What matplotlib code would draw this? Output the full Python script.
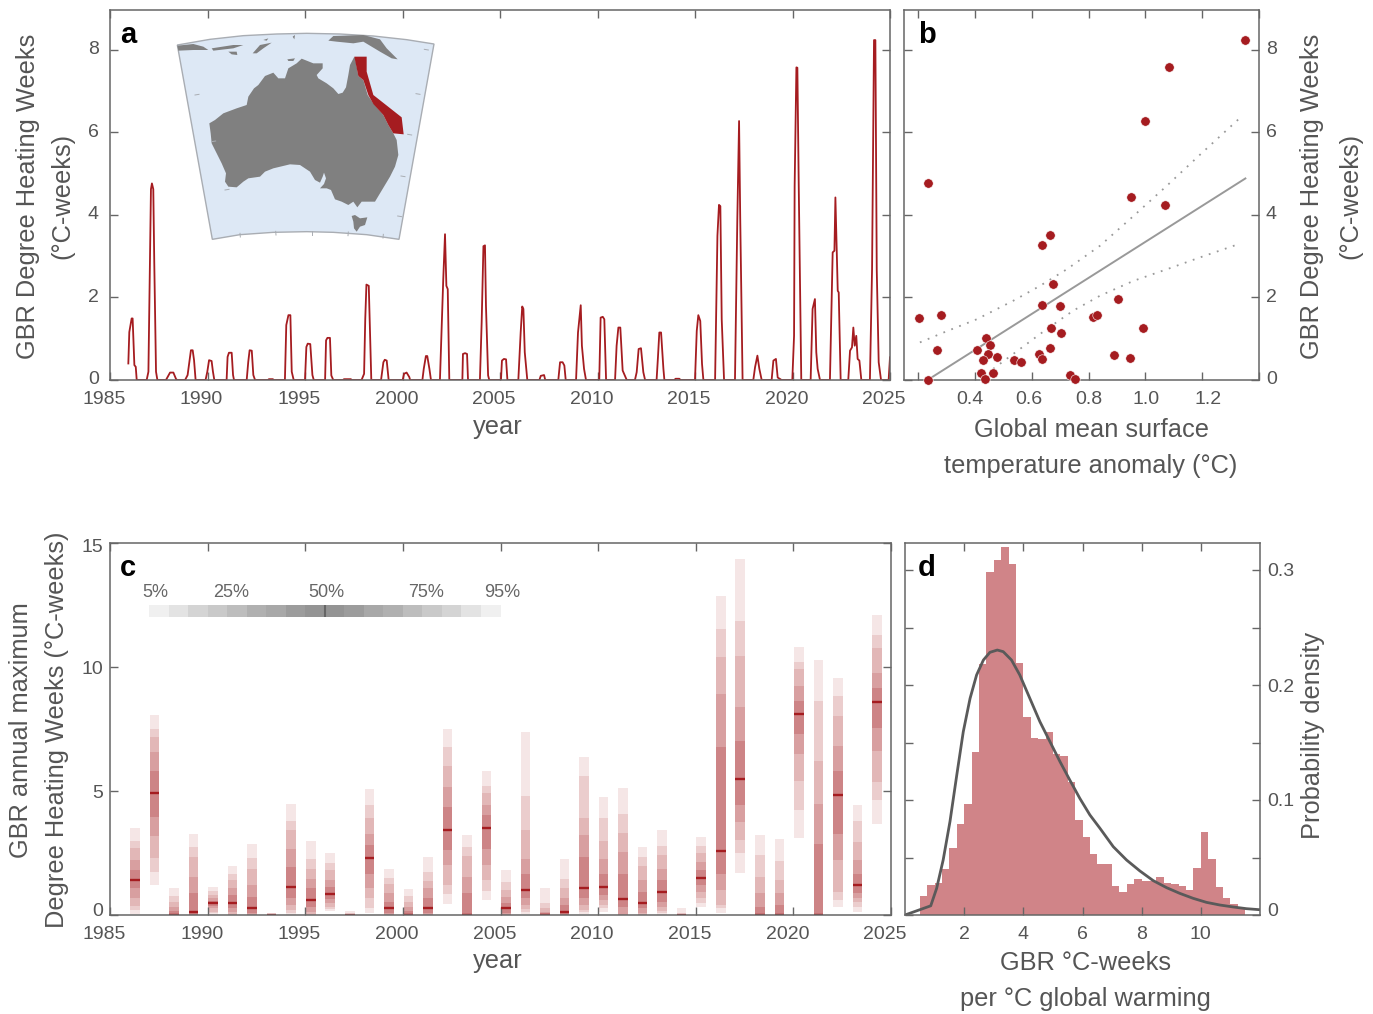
import numpy as np
import matplotlib
matplotlib.use("Agg")
import matplotlib.pyplot as plt
from matplotlib.patches import Polygon
from matplotlib.transforms import ScaledTranslation

plt.rcParams['font.family'] = ['Liberation Sans', 'DejaVu Sans']

W, H = 1373, 1014
RED = '#a51c20'
GREY = '#666666'
TXT = '#555555'

# panel a, DHW time series (year, value), one line per bleaching season
dhw_t = [1985.94, 1985.99, 1986.11, 1986.16, 1986.25, 1986.32, 1986.37,
    1986.88, 1986.97, 1987.02, 1987.10, 1987.15, 1987.22, 1987.27, 1987.36, 1987.43,
    1987.87, 1987.99, 1988.08, 1988.25, 1988.39, 1988.45,
    1988.85, 1988.98, 1989.05, 1989.15, 1989.24, 1989.31, 1989.39,
    1989.90, 1989.99, 1990.08, 1990.21, 1990.28, 1990.35,
    1990.98, 1991.03, 1991.10, 1991.24, 1991.31, 1991.36,
    1992.01, 1992.09, 1992.16, 1992.27, 1992.35, 1992.44,
    1993.10, 1993.15, 1993.35, 1993.40,
    1993.97, 1994.04, 1994.15, 1994.25, 1994.32, 1994.42,
    1995.00, 1995.07, 1995.14, 1995.27, 1995.38, 1995.45,
    1996.03, 1996.08, 1996.15, 1996.28, 1996.35, 1996.45,
    1996.95, 1997.00, 1997.35, 1997.40,
    1997.90, 1998.03, 1998.09, 1998.15, 1998.27, 1998.33, 1998.40,
    1998.90, 1999.02, 1999.09, 1999.19, 1999.29,
    2000.01, 2000.08, 2000.21, 2000.35, 2000.39,
    2001.02, 2001.09, 2001.20, 2001.27, 2001.38, 2001.46,
    2001.92, 2002.01, 2002.09, 2002.18, 2002.25, 2002.32, 2002.40,
    2003.07, 2003.10, 2003.21, 2003.31, 2003.36,
    2003.97, 2004.06, 2004.15, 2004.23, 2004.28, 2004.39, 2004.45,
    2005.05, 2005.10, 2005.20, 2005.31, 2005.38,
    2005.94, 2006.06, 2006.14, 2006.20, 2006.27, 2006.40,
    2007.02, 2007.09, 2007.26, 2007.32,
    2007.99, 2008.08, 2008.21, 2008.30, 2008.37,
    2008.90, 2009.00, 2009.14, 2009.20, 2009.31, 2009.41,
    2010.09, 2010.16, 2010.27, 2010.35, 2010.44,
    2010.90, 2010.98, 2011.07, 2011.17, 2011.29, 2011.50,
    2011.92, 2012.01, 2012.11, 2012.23, 2012.35, 2012.44,
    2013.03, 2013.10, 2013.17, 2013.26, 2013.38, 2013.43,
    2013.95, 2014.00, 2014.20, 2014.25,
    2015.00, 2015.09, 2015.17, 2015.27, 2015.36, 2015.43,
    2016.03, 2016.15, 2016.23, 2016.30, 2016.37, 2016.49,
    2017.05, 2017.17, 2017.26, 2017.32, 2017.44,
    2017.99, 2018.08, 2018.20, 2018.30, 2018.42,
    2018.93, 2019.02, 2019.15, 2019.24, 2019.44,
    2019.99, 2020.08, 2020.11, 2020.20, 2020.25, 2020.32, 2020.45,
    2020.93, 2021.03, 2021.15, 2021.22, 2021.29, 2021.41,
    2021.92, 2022.06, 2022.15, 2022.20, 2022.27, 2022.32, 2022.37, 2022.47,
    2022.86, 2022.95, 2023.05, 2023.12, 2023.19, 2023.27, 2023.34, 2023.43, 2023.53,
    2023.97, 2024.08, 2024.18, 2024.25, 2024.32, 2024.42, 2024.49, 2024.54,
    2024.93, 2025.00]
dhw_v = [.40, 1.16, 1.49, 1.49, .36, .32, 0,
    0, .2, 1.89, 4.62, 4.76, 4.62, 2.85, .2, 0,
    0, .1, .18, .18, .02, 0,
    0, .12, .36, .72, .72, .48, 0,
    0, .2, .48, .46, .2, 0,
    0, .56, .66, .66, .12, 0,
    0, .44, .72, .71, .12, 0,
    0, .02, .02, 0,
    0, 1.33, 1.57, 1.57, .2, 0,
    0, .8, .88, .87, .12, 0,
    0, .96, 1.02, 1.02, .11, 0,
    0, .02, .02, 0,
    0, .15, 1.48, 2.31, 2.28, 1.24, 0,
    0, .43, .49, .47, 0,
    0, .15, .18, .07, 0,
    0, .27, .58, .58, .27, 0,
    0, 1.32, 2.44, 3.53, 2.28, 2.2, 0,
    0, .63, .65, .63, 0,
    0, 1.4, 3.24, 3.26, 1.8, .11, 0,
    0, .47, .51, .5, 0,
    0, 1.15, 1.78, 1.72, .67, 0,
    0, .1, .12, 0,
    0, .43, .43, .35, 0,
    0, 1.15, 1.81, .83, .27, 0,
    0, 1.51, 1.53, 1.47, 0,
    0, .83, 1.27, 1.27, .23, 0,
    0, .19, .75, .77, .19, 0,
    0, .55, 1.15, 1.15, .27, 0,
    0, .03, .03, 0,
    0, 1.19, 1.57, 1.43, .39, 0,
    0, 3.49, 4.24, 4.21, 1.47, 0,
    0, 3.89, 6.27, 3.89, 0,
    0, .31, .59, .27, 0,
    0, .47, .51, .06, 0,
    0, 1.07, 4.7, 7.57, 7.56, 4.7, 0,
    0, 1.72, 1.96, .67, .27, 0,
    0, 3.09, 3.13, 4.42, 3.09, 2.16, 2.12, 0,
    0, .71, .79, 1.27, .83, 1.07, .51, .47, 0,
    0, 2.68, 8.23, 8.23, 2.68, .43, .19, 0,
    0, .55]

# panel b
gmst = [.202, .282, .265, .235, .233, .407, .439, .453, .447, .427, .478, .421, .462,
    .436, .537, .562, .637, .637, .663, .676, .699, .669, .704, .663, .624, .636,
    .736, .752, .815, .831, .904, .889, .947, .993, .949, 1.068, .998, 1.084, 1.352]
dhw_max = [1.50, 1.57, .72, 4.76, 0, .73, 1.01, .85, .64, .49, .56, .16, .17,
    .02, .48, .44, 1.81, 3.28, 3.51, 2.32, 1.79, 1.27, 1.15, .77, .64, .51,
    .13, .02, 1.53, 1.57, 1.97, .60, .53, 1.27, 4.43, 4.24, 6.26, 7.57, 8.23]
fit_x = [.233, 1.352]
fit_y = [0, 4.88]
upper_x = [.206, .3, .406, .535, .629, .723, .84, .958, 1.075, 1.193, 1.34]
upper_y = [.91, 1.18, 1.47, 1.92, 2.28, 2.68, 3.25, 3.97, 4.70, 5.46, 6.39]
lower_x = [.464, .558, .652, .746, .84, .958, 1.075, 1.193, 1.328]
lower_y = [.27, .75, 1.23, 1.68, 2.04, 2.40, 2.68, 2.97, 3.29]

# panel c, percentiles per year 1986..2024
years = np.arange(1986, 2025)
p5 = [.04, 1.2, 0, 0, 0, 0, 0, 0, 0, 0, .16, 0, .07, 0, 0, 0, .44, 0, .6, 0, .04, 0, 0, .04, .13, 0, 0, 0, 0, .31, .09, 1.7, 0, 0, 3.12, 0, .31, .13, 3.65]
p10 = [.2, 1.74, 0, 0, .07, 0, 0, 0, .09, 0, .24, 0, .29, 0, 0, 0, .84, 0, .98, 0, .13, 0, 0, .13, .27, 0, 0, .09, 0, .47, .27, 2.48, 0, 0, 4.22, 0, .6, .33, 4.62]
p15 = [.36, 2.28, 0, 0, .13, 0, 0, 0, .2, 0, .33, 0, .67, 0, 0, 0, 1.2, 0, 1.43, 0, .23, 0, 0, .2, .4, 0, 0, .17, 0, .67, .4, 3.01, 0, 0, 5.42, 0, .94, .54, 5.35]
p25 = [.67, 3.2, 0, 0, .27, .13, 0, 0, .4, .13, .47, 0, 1.07, 0, 0, 0, 2.01, 0, 2.0, 0, .4, 0, 0, .4, .6, 0, .09, .33, 0, .94, 1.0, 3.75, 0, 0, 6.49, 0, 2.21, .67, 6.63]
p35 = [1.07, 3.95, 0, 0, .36, .27, .07, 0, .67, .33, .63, 0, 1.67, .07, 0, .09, 2.61, 0, 2.68, .09, .67, 0, 0, .67, .8, .33, .27, .54, 0, 1.2, 1.67, 4.42, 0, 0, 7.3, 0, 3.28, .87, 7.56]
p50 = [1.43, 4.93, 0, .13, .47, .47, .29, 0, 1.11, .6, .84, 0, 2.28, .27, 0, .28, 3.41, 0, 3.49, .29, 1.0, 0, .13, 1.1, 1.14, .66, .47, .92, 0, 1.49, 2.57, 5.5, 0, 0, 8.09, 0, 4.85, 1.2, 8.58]
p65 = [1.8, 5.82, .17, .87, .56, .8, .74, 0, 1.94, 1.07, 1.14, 0, 2.81, .54, .17, .67, 4.35, .87, 4.02, .47, 1.67, .07, .4, 2.34, 1.67, 1.67, .94, 1.41, 0, 1.81, 6.76, 7.03, .33, .4, 8.63, 2.88, 5.82, 1.67, 9.17]
p75 = [2.2, 6.56, .33, 1.54, .67, 1.07, 1.2, 0, 2.68, 1.47, 1.41, 0, 3.28, .87, .33, 1.07, 5.15, 1.54, 4.42, .74, 2.24, .13, .67, 3.21, 2.24, 2.54, 1.41, 1.87, 0, 2.14, 8.9, 8.37, .87, .87, 9.24, 4.48, 6.83, 2.21, 9.77]
p85 = [2.7, 7.16, .54, 2.34, .8, 1.4, 1.87, 0, 3.44, 1.87, 1.81, 0, 3.92, 1.27, .54, 1.38, 6.02, 2.38, 4.91, 1.0, 3.41, .27, 1.07, 3.92, 2.97, 3.31, 1.97, 2.41, 0, 2.48, 10.4, 10.44, 1.54, 1.41, 9.91, 6.2, 8.03, 2.95, 10.75]
p90 = [3.0, 7.52, .76, 2.74, .98, 1.67, 2.3, 0, 3.79, 2.24, 2.1, 0, 4.42, 1.51, .76, 1.74, 6.76, 2.74, 5.22, 1.34, 4.78, .5, 1.47, 5.61, 3.92, 4.08, 2.34, 2.78, 0, 2.77, 11.54, 11.85, 2.41, 2.17, 10.21, 8.63, 8.84, 3.79, 11.29]
p95 = [3.5, 8.07, 1.07, 3.28, 1.11, 1.97, 2.88, .09, 4.48, 2.97, 2.52, .16, 5.09, 1.85, 1.03, 2.34, 7.52, 3.23, 5.8, 1.81, 7.36, 1.1, 2.25, 6.36, 4.75, 5.11, 2.74, 3.41, .29, 3.15, 12.88, 14.36, 3.24, 3.08, 10.8, 10.28, 9.57, 4.43, 12.1]
legend_grey = [.94, .89, .83, .79, .74, .69, .66, .61, .58, .58, .61, .66, .69, .74, .79, .83, .89, .94]
legend_labels = ['5%', '25%', '50%', '75%', '95%']
legend_label_x = [1987.3, 1991.2, 1996.1, 2001.2, 2005.1]

# panel d
hist_left = np.arange(0.5, 11.5, 0.25)
hist_h = [.0168, .026, .0275, .04, .0586, .0788, .0968, .142, .218, .2986, .3087, .3197, .3055,
    .2188, .172, .1536, .153, .159, .14, .138, .116, .083, .068, .053, .044, .044, .025, .02,
    .027, .0316, .03, .03, .033, .028, .027, .025, .0214, .041, .0725, .0487, .024, .0145, .01, .0064]
pdf_x = [0, .87, 1.07, 1.29, 1.52, 1.75, 1.97, 2.2, 2.42, 2.65, 2.87, 3.12, 3.32, 3.6, 3.88, 4.22,
    4.56, 4.9, 5.24, 5.57, 5.91, 6.25, 6.59, 7.04, 7.49, 7.94, 8.39, 8.84, 9.29, 9.74, 10.19, 10.64, 11.09, 11.54, 11.99]
pdf_y = [0, .008, .0232, .0478, .0812, .1217, .1594, .1884, .2087, .2217, .2284, .2304, .229, .2217, .2087, .1884,
    .1681, .1507, .1333, .1174, .1014, .087, .0754, .0594, .0478, .0383, .0299, .0238, .0188, .0145, .011, .0087, .007, .0055, .0046]

# inset map outlines, in the pixels of a 3x crop
map_frame = [(232,135),(330,118),(430,107),(530,102),(620,100),(720,102),(820,108),(920,119),(1002,132),
    (897,718),(800,704),(700,697),(620,695),(520,697),(420,704),(337,718)]
map_ticks = [(285,285,297,283),(335,425,347,423),(375,570,387,568),(420,700,421,711),(527,694,528,705),(635,693,635,704),
    (745,696,744,707),(850,703,849,714),(985,150,973,148),(960,283,948,281),(935,405,923,403),(915,530,903,528),(905,650,893,648)]
australia = [(762,172),(750,195),(745,225),(738,262),(728,278),(715,282),(700,265),(680,250),(655,235),(650,225),
    (668,205),(668,190),(640,190),(605,176),(590,190),(565,205),(555,235),(535,235),(520,218),(495,228),(475,255),
    (462,265),(445,290),(440,315),(410,325),(370,340),(345,360),(328,370),(332,400),(335,430),(350,460),(365,490),
    (378,520),(375,545),(385,560),(410,562),(430,545),(445,535),(480,530),(495,515),(520,505),(570,493),(600,495),
    (630,515),(645,540),(660,548),(668,530),(672,518),(678,535),(672,552),(660,565),(680,565),(693,570),(705,598),
    (725,605),(745,615),(760,605),(772,622),(785,605),(825,605),(840,580),(855,555),(870,530),(885,500),(895,465),
    (890,420),(880,400),(865,375),(850,345),(820,310),(803,285),(790,240),(775,228),(765,172)]
gbr = [(763,170),(800,170),(800,215),(820,285),(905,352),(911,403),(880,400),(865,375),(850,345),(820,312),(805,285),(790,240),(775,228)]
land_bits = [
    [(755,648),(765,645),(780,655),(802,652),(795,675),(780,680),(770,695),(762,685),(760,665)],
    [(685,122),(700,108),(790,105),(840,118),(860,145),(893,178),(875,175),(840,155),(790,125),(760,130),(710,125)],
    [(232,137),(280,132),(310,140),(325,150),(280,150),(235,152)],
    [(335,145),(400,135),(430,135),(400,145),(340,152)],
    [(385,155),(410,155),(412,165),(395,163)],
    [(458,160),(480,135),(515,128),(490,145),(470,160)],
    [(490,120),(505,115),(500,122)],
    [(562,178),(585,175),(580,183),(565,183)],
    [(578,110),(585,105),(583,118)]]


def make_axes(fig, l, t, r, b):
	return fig.add_axes([l / W, 1 - b / H, (r - l) / W, (b - t) / H])


def style(ax, letter, letter_px):
	for s in ax.spines.values():
		s.set_color(GREY)
		s.set_linewidth(1.1)
	ax.tick_params(which='both', direction='in', length=6, width=1, color=GREY,
		top=True, bottom=True, left=True, right=True, labelcolor=TXT, labelsize=14, pad=8)
	fig.text(letter_px[0] / W, 1 - letter_px[1] / H, letter, fontsize=21, fontweight='bold',
		color='black', ha='left', va='center')


def ftext(x, y, s, rot=0, size=18.3):
	fig.text(x / W, 1 - y / H, s, rotation=rot, fontsize=size, color=TXT, ha='center', va='center')


def nudge(label, dx, dy):
	# move a tick label by some pixels, right and up
	label.set_transform(label.get_transform() + ScaledTranslation(dx / 100, dy / 100, fig.dpi_scale_trans))


fig = plt.figure(figsize=(W / 100, H / 100), dpi=100)

# a
ax = make_axes(fig, 110, 10, 890, 380)
ax.plot(dhw_t, dhw_v, color=RED, lw=1.3, solid_joinstyle='round')
ax.set_xlim(1985, 2025)
ax.set_ylim(0, 370 / 41.3)
ax.set_xticks(range(1985, 2026, 5))
ax.set_yticks(range(0, 9, 2))
style(ax, 'a', (120, 35))
for lb in ax.get_xticklabels():
	nudge(lb, -6, 0)
for lb in ax.get_yticklabels():
	nudge(lb, 0, 2)
ftext(28, 196, 'GBR Degree Heating Weeks', 90)
ftext(62, 196, '(°C-weeks)', 90)
ftext(498, 427, 'year')

# b
ax = make_axes(fig, 904, 10, 1259, 380)
ax.plot(fit_x, fit_y, color='#999999', lw=1.4)
ax.plot(upper_x, upper_y, color='#999999', lw=1.3, ls=(0, (1, 3.7)))
ax.plot(lower_x, lower_y, color='#999999', lw=1.3, ls=(0, (1, 3.7)))
ax.scatter(gmst, dhw_max, s=46, color=RED, edgecolor='white', linewidth=0.4, zorder=3, clip_on=False)
ax.set_xlim(0.15, 1.4)
ax.set_ylim(0, 370 / 41.3)
ax.set_xticks([.2, .4, .6, .8, 1.0, 1.2, 1.4])
ax.set_xticklabels(['', '0.4', '0.6', '0.8', '1.0', '1.2', ''])
ax.set_yticks(range(0, 9, 2))
style(ax, 'b', (918, 35))
ax.tick_params(axis='y', labelleft=False, labelright=True, pad=5)
for lb, dx in zip(ax.get_xticklabels(), [0, -5, -3, 0, 1, 6, 0]):
	nudge(lb, dx, 0)
for lb in ax.get_yticklabels():
	nudge(lb, 0, 2)
ftext(1312, 196, 'GBR Degree Heating Weeks', 90)
ftext(1350, 196, '(°C-weeks)', 90)
ftext(1091, 430, 'Global mean surface')
ftext(1091, 466, 'temperature anomaly (°C)')

# c
ax = make_axes(fig, 110, 543, 891, 915)
bar_x = years + 0.28
layers = [(p5, p95, .11), (p10, p90, .12), (p15, p85, .12), (p25, p75, .15), (p35, p65, .2)]
for lo, hi, a in layers:
	lo = np.array(lo)
	hi = np.array(hi)
	ax.bar(bar_x, hi - lo, bottom=lo, width=0.49, color=RED, alpha=a, linewidth=0)
ax.hlines(p50, bar_x - 0.245, bar_x + 0.245, color=RED, lw=1.7)
ax.bar(np.arange(1987, 2005) + 0.5, 0.5, bottom=12.0, width=1.0, color=[str(g) for g in legend_grey], linewidth=0)
ax.vlines(1996, 12.0, 12.5, color='#666666', lw=1.5)
for lx, lb in zip(legend_label_x, legend_labels):
	ax.text(lx, 13.0, lb, fontsize=13, color='#666666', ha='center', va='center')
ax.set_xlim(1985, 2025)
ax.set_ylim(0, 15)
ax.set_xticks(range(1985, 2026, 5))
ax.set_yticks([0, 5, 10, 15])
style(ax, 'c', (120, 568))
ax.tick_params(axis='y', pad=5)
for lb in ax.get_xticklabels():
	nudge(lb, -6, 0)
for lb, dy in zip(ax.get_yticklabels(), [5, 0, 0, -3]):
	nudge(lb, 0, dy)
ftext(21, 730, 'GBR annual maximum', 90)
ftext(57, 730, 'Degree Heating Weeks (°C-weeks)', 90)
ftext(498, 961, 'year')

# d
ax = make_axes(fig, 905, 543, 1260, 915)
ax.bar(hist_left, hist_h, width=0.25, align='edge', color='#d08488', linewidth=0)
ax.plot(pdf_x, pdf_y, color='#5a5a5a', lw=2)
ax.set_xlim(0, 12)
ax.set_ylim(0, 372 / 1150)
ax.set_xticks([2, 4, 6, 8, 10])
ax.set_yticks([0, .05, .1, .15, .2, .25, .3])
ax.set_yticklabels(['0', '', '0.1', '', '0.2', '', '0.3'])
style(ax, 'd', (918, 568))
ax.tick_params(axis='y', labelleft=False, labelright=True, pad=5)
for lb, dy in zip(ax.get_yticklabels(), [5, 0, 0, 0, 0, 0, 0]):
	nudge(lb, 0, dy)
ftext(1313, 735, 'Probability density', 90)
ftext(1085, 963, 'GBR °C-weeks')
ftext(1085, 999, 'per °C global warming')

# inset map, axes spans the crop it was read from
m = make_axes(fig, 100, 0, 500, 260)
m.set_xlim(0, 1200)
m.set_ylim(780, 0)
m.axis('off')
m.patch.set_alpha(0)
m.add_patch(Polygon(map_frame, closed=True, facecolor='#dde8f5', edgecolor='#a9adb3', lw=1))
for x0, y0, x1, y1 in map_ticks:
	m.plot([x0, x1], [y0, y1], color='#a9adb3', lw=0.7)
m.add_patch(Polygon(australia, closed=True, facecolor='#808080', edgecolor='none'))
for bit in land_bits:
	m.add_patch(Polygon(bit, closed=True, facecolor='#808080', edgecolor='none'))
m.add_patch(Polygon(gbr, closed=True, facecolor=RED, edgecolor='none'))

fig.savefig('out.png', dpi=100)
